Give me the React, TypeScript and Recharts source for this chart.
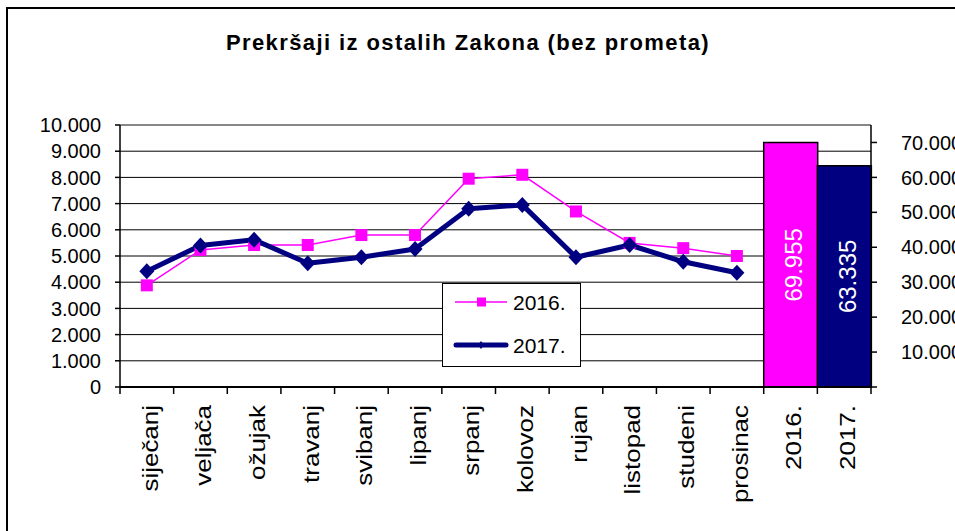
import React from 'react';
import {
  ComposedChart,
  Bar,
  Line,
  XAxis,
  YAxis,
  CartesianGrid,
  Legend,
  Cell,
  LabelList,
  ReferenceLine,
} from 'recharts';

const months = ['siječanj', 'veljača', 'ožujak', 'travanj', 'svibanj', 'lipanj', 'srpanj', 'kolovoz', 'rujan', 'listopad', 'studeni', 'prosinac'];
const years = ['2016.', '2017.'];
const values2016 = [3880, 5230, 5420, 5420, 5800, 5800, 7950, 8100, 6700, 5500, 5300, 5000];
const values2017 = [4420, 5400, 5620, 4720, 4950, 5270, 6800, 6950, 4950, 5420, 4780, 4360];
const totals = [69955, 63335];
const leftTicks = [0, 1000, 2000, 3000, 4000, 5000, 6000, 7000, 8000, 9000, 10000];
const rightTicks = [0, 10000, 20000, 30000, 40000, 50000, 60000, 70000];
const title = 'Prekršaji iz ostalih Zakona (bez prometa)';

const C2016 = '#FF00FF';
const C2017 = '#000080';
const yearColors = [C2016, C2017];
const FONT = '"Liberation Sans", Arial, Helvetica, sans-serif';

const data = [
  ...months.map((m, i) => ({ name: m, y2016: values2016[i], y2017: values2017[i] })),
  ...years.map((y, i) => ({ name: y, total: totals[i] })),
];

const fmt = (n: number) => String(n).replace(/\B(?=(\d{3})+(?!\d))/g, '.');

const SquareDot = (props: any) => {
  const { cx, cy } = props;
  if (cx == null || cy == null) return null;
  return <rect key={`s-${cx}`} x={cx - 6} y={cy - 6} width={12} height={12} fill={C2016} />;
};

const DiamondDot = (props: any) => {
  const { cx, cy } = props;
  if (cx == null || cy == null) return null;
  return (
    <polygon
      key={`d-${cx}`}
      points={`${cx},${cy - 8} ${cx + 7.5},${cy} ${cx},${cy + 8} ${cx - 7.5},${cy}`}
      fill={C2017}
    />
  );
};

const XTick = (props: any) => {
  const { x, y, payload, index, visibleTicksCount } = props;
  const off = payload && payload.offset != null ? payload.offset : (871 - 120) / 14 / 2;
  const axisY = y - 18;
  const isLast = index === (visibleTicksCount ?? 14) - 1;
  return (
    <g>
      <line x1={x - off} y1={axisY} x2={x - off} y2={axisY + 7} stroke="#000" strokeWidth={1.5} />
      {isLast && <line x1={x + off} y1={axisY} x2={x + off} y2={axisY + 7} stroke="#000" strokeWidth={1.5} />}
      <text
        transform={`translate(${x + 3},${y}) rotate(-90) scale(1.18,1)`}
        textAnchor="end"
        dominantBaseline="central"
        fontSize={22}
        fontFamily={FONT}
        fill="#000"
      >
        {payload.value}
      </text>
    </g>
  );
};

const BarLabel = (props: any) => {
  const { x, y, width, height, value } = props;
  if (value == null) return null;
  const cx = x + width / 2 + 3;
  const cy = y + height / 2;
  return (
    <text
      transform={`translate(${cx},${cy}) rotate(-90)`}
      textAnchor="middle"
      dominantBaseline="central"
      fontSize={24}
      fontFamily={FONT}
      fill="#fff"
    >
      {fmt(value)}
    </text>
  );
};

const renderLegend = (props: any) => {
  const items = (props.payload || []).filter((p: any) => p.dataKey === 'y2016' || p.dataKey === 'y2017');
  return (
    <svg width={139} height={84} style={{ display: 'block' }}>
      <rect x={0.5} y={0.5} width={138} height={83} fill="#fff" stroke="#000" strokeWidth={1} />
      {items.map((it: any, i: number) => {
        const cy = i === 0 ? 19 : 62;
        const is16 = it.dataKey === 'y2016';
        return (
          <g key={it.dataKey}>
            {is16 ? (
              <>
                <line x1={13} y1={cy} x2={65} y2={cy} stroke={C2016} strokeWidth={1.5} />
                <rect x={35} y={cy - 4.5} width={9} height={9} fill={C2016} />
              </>
            ) : (
              <>
                <line x1={14} y1={cy} x2={64} y2={cy} stroke={C2017} strokeWidth={5} strokeLinecap="round" />
                <polygon points={`39,${cy - 4} 42,${cy} 39,${cy + 4} 36,${cy}`} fill={C2017} />
              </>
            )}
            <text x={71} y={cy} dy="0.36em" fontSize={21} fontFamily={FONT} fill="#000">
              {it.value}
            </text>
          </g>
        );
      })}
    </svg>
  );
};

export default function App() {
  return (
    <div style={{ position: 'relative', width: 955, height: 531, overflow: 'hidden', background: '#fff' }}>
      <style>{'body{margin:0;overflow:hidden;background:#fff}'}</style>
      <div
        style={{
          position: 'absolute',
          left: 6,
          top: 7,
          width: 1000,
          height: 1000,
          border: '2px solid #000',
          boxSizing: 'border-box',
        }}
      />
      <div style={{ position: 'absolute', left: 0, top: 0 }}>
        <ComposedChart
          width={955}
          height={531}
          data={data}
          margin={{ top: 125, right: 0, bottom: 0, left: 0 }}
          barCategoryGap={0}
          barGap={0}
          style={{ overflow: 'visible', fontFamily: FONT }}
        >
          <text
            x={468}
            y={50}
            textAnchor="middle"
            fontSize={22}
            fontWeight="bold"
            letterSpacing={1.4}
            fontFamily={FONT}
            fill="#000"
          >
            {title}
          </text>
          <CartesianGrid yAxisId="left" horizontal vertical={false} stroke="#000" strokeWidth={1} />
          <XAxis
            dataKey="name"
            type="category"
            height={144}
            interval={0}
            tickSize={7}
            tickMargin={11}
            tickLine={{ stroke: 'none' }}
            axisLine={{ stroke: '#000', strokeWidth: 2 }}
            tick={<XTick />}
          />
          <YAxis
            yAxisId="left"
            orientation="left"
            width={120}
            domain={[0, 10000]}
            ticks={leftTicks}
            interval={0}
            tickSize={5}
            tickMargin={14}
            tickFormatter={fmt}
            tick={{ fontSize: 20, fill: '#000', fontFamily: FONT }}
            tickLine={{ stroke: '#000', strokeWidth: 1.5 }}
            axisLine={{ stroke: '#000', strokeWidth: 1.5 }}
          />
          <YAxis
            yAxisId="right"
            orientation="right"
            width={84}
            domain={[0, 75000]}
            ticks={rightTicks}
            interval={0}
            tickSize={6}
            tickMargin={24}
            tickFormatter={(v: number) => (v === 0 ? '' : fmt(v))}
            tick={{ fontSize: 20, fill: '#000', fontFamily: FONT, textAnchor: 'start' }}
            tickLine={{ stroke: '#000', strokeWidth: 1.5 }}
            axisLine={{ stroke: '#000', strokeWidth: 1.5 }}
          />
          <Bar yAxisId="right" dataKey="total" legendType="none" isAnimationActive={false}>
            {data.map((d, i) => (
              <Cell key={`c-${i}`} fill={i >= months.length ? yearColors[i - months.length] : '#fff'} stroke="#000" strokeWidth={1.5} />
            ))}
            <LabelList dataKey="total" content={<BarLabel />} />
          </Bar>
          <ReferenceLine yAxisId="left" y={10000} stroke="#8a8a8a" strokeWidth={1.5} />
          <Line
            yAxisId="left"
            type="linear"
            dataKey="y2016"
            name="2016."
            stroke={C2016}
            strokeWidth={1.5}
            dot={<SquareDot />}
            activeDot={false}
            isAnimationActive={false}
          />
          <Line
            yAxisId="left"
            type="linear"
            dataKey="y2017"
            name="2017."
            stroke={C2017}
            strokeWidth={5}
            strokeLinejoin="round"
            dot={<DiamondDot />}
            activeDot={false}
            isAnimationActive={false}
          />
          <Legend
            layout="vertical"
            align="center"
            verticalAlign="middle"
            content={renderLegend}
            wrapperStyle={{ position: 'absolute', left: 442, top: 283, width: 139, height: 84 }}
          />
        </ComposedChart>
      </div>
    </div>
  );
}
